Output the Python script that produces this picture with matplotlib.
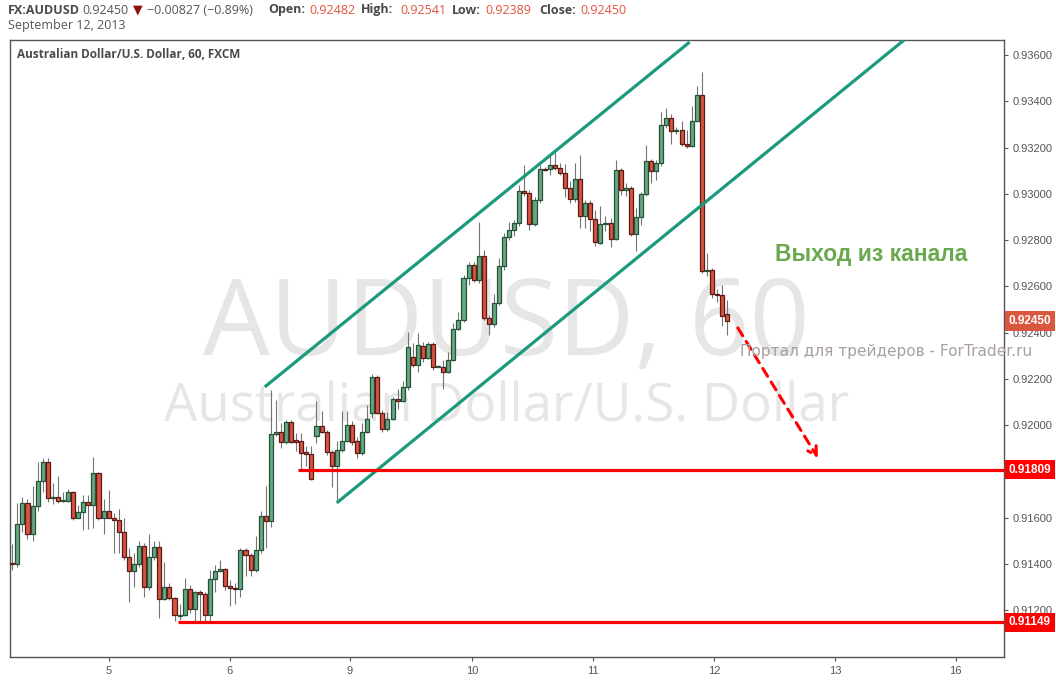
import matplotlib

matplotlib.use("Agg")
import matplotlib.pyplot as plt
import matplotlib.transforms as mtransforms
from matplotlib.patches import Rectangle

# Palette (TradingView classic light theme)
_UP_FILL = "#6ba583"
_UP_EDGE = "#225437"
_DOWN_FILL = "#d75442"
_DOWN_EDGE = "#5b1a13"
_WICK = "#737375"
_CHANNEL = "#1b9a7d"
_LEVEL = "#ff0000"
_LAST_TAG = "#d9573f"
_FRAME = "#555555"
_TEXT = "#555555"
_INK = "#4a4a4a"
_VALUE_RED = "#e0533d"
_WATERMARK = "#e6e6e6"
_NOTE_GREEN = "#6aa84f"
_PORTAL = "#a89f9f"

# Hourly AUDUSD candles (bar 0 .. bar 141)
opens = [
    0.91405, 0.91402, 0.91574, 0.91665, 0.91530, 0.91650, 0.91760, 0.91840, 0.91688, 0.91690,
    0.91675, 0.91675, 0.91710, 0.91600, 0.91627, 0.91670, 0.91657, 0.91795, 0.91600, 0.91630,
    0.91600, 0.91590, 0.91540, 0.91430, 0.91370, 0.91400, 0.91480, 0.91300, 0.91430, 0.91475,
    0.91250, 0.91300, 0.91255, 0.91177, 0.91180, 0.91293, 0.91207, 0.91280, 0.91270, 0.91180,
    0.91337, 0.91370, 0.91380, 0.91306, 0.91298, 0.91293, 0.91462, 0.91440, 0.91376, 0.91462,
    0.91609, 0.91587, 0.91963, 0.91972, 0.91928, 0.92015, 0.91935, 0.91933, 0.91885, 0.91877,
    0.91955, 0.91998, 0.91972, 0.91885, 0.91825, 0.91894, 0.91933, 0.92002, 0.91933, 0.91880,
    0.91972, 0.92054, 0.92209, 0.92054, 0.91985, 0.92028, 0.92114, 0.92106, 0.92166, 0.92296,
    0.92261, 0.92343, 0.92291, 0.92352, 0.92252, 0.92252, 0.92231, 0.92283, 0.92417, 0.92456,
    0.92637, 0.92693, 0.92628, 0.92732, 0.92464, 0.92438, 0.92529, 0.92689, 0.92814, 0.92844,
    0.92875, 0.93013, 0.93004, 0.92870, 0.92974, 0.93108, 0.93108, 0.93125, 0.93112, 0.93090,
    0.93026, 0.92978, 0.93065, 0.92905, 0.92961, 0.92892, 0.92788, 0.92870, 0.92875, 0.92805,
    0.93104, 0.93017, 0.93026, 0.92827, 0.92900, 0.93000, 0.93142, 0.93099, 0.93134, 0.93298,
    0.93328, 0.93272, 0.93276, 0.93216, 0.93207, 0.93315, 0.93428, 0.92667, 0.92672, 0.92568,
    0.92564, 0.92482,
]
highs = [
    0.91488, 0.91665, 0.91690, 0.91680, 0.91740, 0.91840, 0.91860, 0.91860, 0.91750, 0.91780,
    0.91710, 0.91725, 0.91715, 0.91657, 0.91700, 0.91700, 0.91864, 0.91800, 0.91680, 0.91720,
    0.91620, 0.91640, 0.91600, 0.91470, 0.91450, 0.91500, 0.91490, 0.91530, 0.91500, 0.91500,
    0.91410, 0.91320, 0.91260, 0.91230, 0.91340, 0.91310, 0.91285, 0.91290, 0.91280, 0.91376,
    0.91397, 0.91420, 0.91384, 0.91330, 0.91320, 0.91470, 0.91470, 0.91449, 0.91520, 0.91630,
    0.91740, 0.92153, 0.92110, 0.92010, 0.92024, 0.92024, 0.91967, 0.91967, 0.91910, 0.91910,
    0.92106, 0.92060, 0.91980, 0.91894, 0.91933, 0.92060, 0.92060, 0.92020, 0.91950, 0.92010,
    0.92088, 0.92222, 0.92218, 0.92067, 0.92058, 0.92123, 0.92158, 0.92192, 0.92404, 0.92356,
    0.92400, 0.92360, 0.92360, 0.92360, 0.92260, 0.92283, 0.92317, 0.92443, 0.92490, 0.92650,
    0.92706, 0.92706, 0.92879, 0.92758, 0.92477, 0.92568, 0.92724, 0.92831, 0.92879, 0.92888,
    0.93039, 0.93125, 0.93017, 0.92987, 0.93125, 0.93117, 0.93168, 0.93181, 0.93134, 0.93130,
    0.93056, 0.93134, 0.93168, 0.92974, 0.92974, 0.92931, 0.92948, 0.92905, 0.92896, 0.93147,
    0.93112, 0.93047, 0.93034, 0.92940, 0.93009, 0.93212, 0.93151, 0.93147, 0.93354, 0.93371,
    0.93345, 0.93290, 0.93315, 0.93276, 0.93380, 0.93466, 0.93527, 0.92745, 0.92680, 0.92590,
    0.92607, 0.92541,
]
lows = [
    0.91376, 0.91390, 0.91540, 0.91510, 0.91500, 0.91630, 0.91710, 0.91670, 0.91660, 0.91665,
    0.91670, 0.91670, 0.91590, 0.91600, 0.91548, 0.91550, 0.91557, 0.91590, 0.91530, 0.91600,
    0.91449, 0.91450, 0.91420, 0.91237, 0.91300, 0.91390, 0.91260, 0.91290, 0.91420, 0.91168,
    0.91246, 0.91246, 0.91155, 0.91160, 0.91177, 0.91190, 0.91150, 0.91150, 0.91150, 0.91150,
    0.91280, 0.91367, 0.91290, 0.91220, 0.91230, 0.91260, 0.91350, 0.91350, 0.91367, 0.91449,
    0.91470, 0.91560, 0.91955, 0.91900, 0.91920, 0.91924, 0.91890, 0.91808, 0.91825, 0.91764,
    0.91924, 0.91967, 0.91870, 0.91734, 0.91665, 0.91885, 0.91928, 0.91916, 0.91860, 0.91870,
    0.91967, 0.92032, 0.92050, 0.91972, 0.91976, 0.92024, 0.92070, 0.92101, 0.92153, 0.92252,
    0.92230, 0.92274, 0.92287, 0.92240, 0.92250, 0.92158, 0.92227, 0.92278, 0.92412, 0.92447,
    0.92607, 0.92620, 0.92615, 0.92456, 0.92391, 0.92425, 0.92520, 0.92672, 0.92801, 0.92818,
    0.92862, 0.92991, 0.92844, 0.92862, 0.92961, 0.93100, 0.93080, 0.93104, 0.93080, 0.92987,
    0.92961, 0.92965, 0.92853, 0.92853, 0.92840, 0.92775, 0.92784, 0.92840, 0.92771, 0.92801,
    0.92996, 0.92991, 0.92818, 0.92754, 0.92866, 0.92991, 0.93047, 0.93060, 0.93120, 0.93285,
    0.93216, 0.93259, 0.93207, 0.93199, 0.93203, 0.93311, 0.92659, 0.92646, 0.92550, 0.92533,
    0.92430, 0.92389,
]
closes = [
    0.91400, 0.91574, 0.91665, 0.91530, 0.91650, 0.91760, 0.91840, 0.91688, 0.91692, 0.91675,
    0.91678, 0.91710, 0.91600, 0.91627, 0.91670, 0.91657, 0.91795, 0.91600, 0.91630, 0.91600,
    0.91590, 0.91540, 0.91430, 0.91370, 0.91400, 0.91480, 0.91300, 0.91430, 0.91475, 0.91250,
    0.91300, 0.91255, 0.91180, 0.91180, 0.91293, 0.91207, 0.91280, 0.91270, 0.91180, 0.91337,
    0.91370, 0.91380, 0.91306, 0.91298, 0.91293, 0.91462, 0.91440, 0.91376, 0.91462, 0.91609,
    0.91587, 0.91963, 0.91972, 0.91928, 0.92015, 0.91928, 0.91930, 0.91880, 0.91877, 0.91769,
    0.91998, 0.91972, 0.91885, 0.91825, 0.91894, 0.91933, 0.92002, 0.91928, 0.91880, 0.91972,
    0.92028, 0.92209, 0.92054, 0.91985, 0.92028, 0.92114, 0.92106, 0.92166, 0.92339, 0.92261,
    0.92348, 0.92291, 0.92352, 0.92252, 0.92255, 0.92231, 0.92283, 0.92417, 0.92456, 0.92637,
    0.92693, 0.92628, 0.92732, 0.92464, 0.92438, 0.92529, 0.92689, 0.92814, 0.92844, 0.92875,
    0.93013, 0.93004, 0.92870, 0.92974, 0.93108, 0.93104, 0.93125, 0.93112, 0.93090, 0.93026,
    0.92978, 0.93065, 0.92905, 0.92961, 0.92892, 0.92793, 0.92870, 0.92875, 0.92805, 0.93104,
    0.93017, 0.93026, 0.92827, 0.92900, 0.93000, 0.93142, 0.93099, 0.93134, 0.93298, 0.93328,
    0.93272, 0.93276, 0.93216, 0.93207, 0.93315, 0.93428, 0.92667, 0.92672, 0.92568, 0.92564,
    0.92473, 0.92450,
]

# Session starts (bar index) and their day-of-month labels
day_ticks = [19.1, 42.9, 66.6, 90.7, 114.5, 138.4, 162.3, 186.1]
day_labels = ["5", "6", "9", "10", "11", "12", "13", "16"]

# 0.918 sits under the 0.91809 tag, so it is not listed
price_ticks = [0.912, 0.914, 0.916, 0.920, 0.922, 0.924, 0.926,
               0.928, 0.930, 0.932, 0.934, 0.936]

# Drawings on the chart: (bar, price) end points
channel_upper_bars = [49.8, 133.6]
channel_upper_prices = [0.92166, 0.93656]
channel_lower_bars = [64.0, 175.9]
channel_lower_prices = [0.91665, 0.93665]
support_level = 0.91809
support_start_bar = 56.3
low_level = 0.91149
low_start_bar = 32.7
last_price = 0.92450
arrow_bars = [143.1, 158.9]
arrow_prices = [0.92421, 0.91859]

W, H = 1056, 684


def draw_candles(ax) -> None:
    width = 0.8
    for i, (o, h, l, c) in enumerate(zip(opens, highs, lows, closes)):
        up = c >= o
        ax.vlines(i, l, h, color=_WICK, linewidth=0.8, zorder=2)
        bottom = min(o, c)
        height = max(abs(c - o), 0.000015)
        ax.add_patch(Rectangle(
            (i - width / 2, bottom), width, height,
            facecolor=_UP_FILL if up else _DOWN_FILL,
            edgecolor=_UP_EDGE if up else _DOWN_EDGE,
            linewidth=0.9, zorder=3,
        ))


def price_tag(ax, price, color) -> None:
    trans = mtransforms.blended_transform_factory(ax.transAxes, ax.transData)
    ax.text(1.005, price, f"{price:.5f}", transform=trans, ha="left", va="center",
            color="white", fontsize=8.5, fontweight="bold", family="Liberation Sans",
            bbox=dict(boxstyle="square,pad=0.32", facecolor=color, edgecolor="none"),
            clip_on=False, zorder=10)


def header(fig) -> None:
    y1 = 1 - 10 / H
    y2 = 1 - 25 / H
    parts = [
        (8, "FX:AUDUSD", _INK, "bold"),
        (82, "0.92450", _TEXT, "normal"),
        (133, "\u25bc", "#8b1010", "normal"),
        (147, "\u22120.00827 (\u22120.89%)", _TEXT, "normal"),
        (268, "Open:", _INK, "bold"),
        (309, "0.92482", _VALUE_RED, "normal"),
        (361, "High:", _INK, "bold"),
        (400, "0.92541", _VALUE_RED, "normal"),
        (452, "Low:", _INK, "bold"),
        (485, "0.92389", _VALUE_RED, "normal"),
        (539, "Close:", _INK, "bold"),
        (580, "0.92450", _VALUE_RED, "normal"),
    ]
    for x, s, color, weight in parts:
        fig.text(x / W, y1, s, color=color, fontweight=weight, fontsize=9,
                 family=["Open Sans", "DejaVu Sans"], ha="left", va="center")
    fig.text(8 / W, y2, "September 12, 2013", color=_TEXT, fontsize=9,
             family="Open Sans", ha="left", va="center")


def main() -> None:
    fig = plt.figure(figsize=(W / 100, H / 100), dpi=100)
    fig.patch.set_facecolor("white")
    ax = fig.add_axes([10 / W, 27 / H, 994 / W, 617 / H])
    ax.set_xlim(-0.45, 195.6)
    ax.set_ylim(0.90999, 0.93665)

    for side in ("top", "right", "left", "bottom"):
        ax.spines[side].set_color(_FRAME)
        ax.spines[side].set_linewidth(1.0)

    # Watermarks
    ax.text(0.499, 0.49, "AUDUSD, 60", transform=ax.transAxes, ha="center",
            va="baseline", fontsize=76, color=_WATERMARK, family="Open Sans", zorder=0)
    ax.text(0.5, 0.381, "Australian Dollar/U.S. Dollar", transform=ax.transAxes,
            ha="center", va="baseline", fontsize=38, color=_WATERMARK,
            family="Open Sans", zorder=0)

    draw_candles(ax)

    # Channel
    ax.plot(channel_upper_bars, channel_upper_prices, color=_CHANNEL, linewidth=2.3,
            solid_capstyle="butt", zorder=5)
    ax.plot(channel_lower_bars, channel_lower_prices, color=_CHANNEL, linewidth=2.3,
            solid_capstyle="butt", zorder=5)

    # Horizontal levels
    xmax = ax.get_xlim()[1]
    ax.plot([support_start_bar, xmax], [support_level, support_level], color=_LEVEL,
            linewidth=2.3, solid_capstyle="butt", zorder=5)
    ax.plot([low_start_bar, xmax], [low_level, low_level], color=_LEVEL,
            linewidth=2.3, solid_capstyle="butt", zorder=5)

    # Dashed projection arrow
    ax.annotate("", xy=(arrow_bars[1], arrow_prices[1]),
                xytext=(arrow_bars[0], arrow_prices[0]),
                arrowprops=dict(arrowstyle="->,head_length=0.6,head_width=0.35",
                                color=_LEVEL, linewidth=2.2, linestyle=(0, (3, 2.2)),
                                shrinkA=0, shrinkB=0),
                zorder=6)

    ax.text((871 - 10) / 994, 1 - (255 - 40) / 617, "Выход из канала",
            transform=ax.transAxes, ha="center", va="center", fontsize=16.5,
            fontweight="bold", color=_NOTE_GREEN, family="Liberation Sans", zorder=7)
    ax.text((740 - 10) / 994, 1 - (352 - 40) / 617,
            "Портал для трейдеров - ForTrader.ru", transform=ax.transAxes,
            ha="left", va="center", fontsize=11.1, color=_PORTAL,
            family="DejaVu Sans", clip_on=False, zorder=7)

    ax.text(7 / 994, 1 - (55 - 40) / 617, "Australian Dollar/U.S. Dollar, 60, FXCM",
            transform=ax.transAxes, ha="left", va="center", fontsize=8.5,
            fontweight="bold", color=_INK, family="Open Sans", zorder=7)

    # Axes
    ax.yaxis.tick_right()
    ax.set_yticks(price_ticks)
    ax.set_yticklabels([f"{p:.5f}" for p in price_ticks])
    ax.set_xticks(day_ticks)
    ax.set_xticklabels(day_labels)
    ax.tick_params(axis="both", colors=_FRAME, labelcolor=_TEXT, labelsize=8,
                   length=3, width=0.8)
    ax.tick_params(axis="y", pad=3)
    for lbl in ax.get_xticklabels() + ax.get_yticklabels():
        lbl.set_family("Liberation Sans")

    price_tag(ax, last_price, _LAST_TAG)
    price_tag(ax, support_level, _LEVEL)
    price_tag(ax, low_level, _LEVEL)

    header(fig)
    fig.savefig("out.png", dpi=100, facecolor="white")
    plt.close(fig)


main()
